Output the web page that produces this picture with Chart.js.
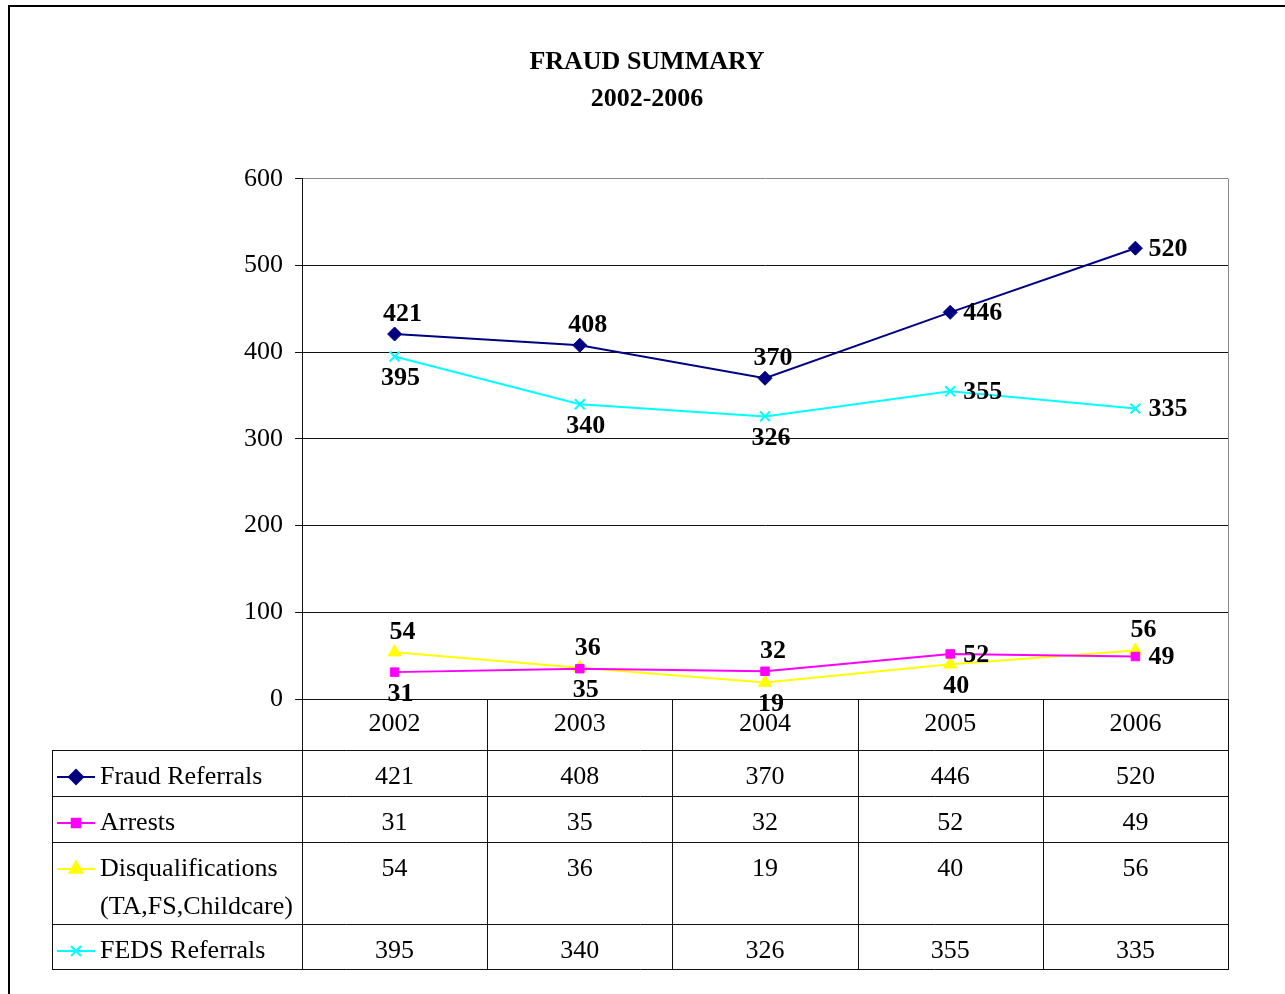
<!DOCTYPE html>
<html>
<head>
<meta charset="utf-8">
<script src="https://cdn.jsdelivr.net/npm/chart.js@4.4.1/dist/chart.umd.min.js"></script>
<style>
  html, body { margin: 0; padding: 0; background: #fff; }
  canvas { display: block; }
</style>
</head>
<body>
<canvas id="fraudChart" width="1285" height="994"></canvas>
<script>
// data
const years = ['2002', '2003', '2004', '2005', '2006'];
const fraudReferrals = [421, 408, 370, 446, 520];
const arrests = [31, 35, 32, 52, 49];
const disqualifications = [54, 36, 19, 40, 56];
const fedsReferrals = [395, 340, 326, 355, 335];
const yTicks = [0, 100, 200, 300, 400, 500, 600];

// where Excel put each value label
const fraudLabelPos = ['above', 'above', 'above', 'right', 'right'];
const arrestsLabelPos = ['below', 'below', 'above', 'right', 'right'];
const disqLabelPos = ['above', 'above', 'below', 'below', 'above'];
const fedsLabelPos = ['below', 'below', 'below', 'right', 'right'];

const FONT = '"Liberation Serif", "Times New Roman", serif';

// names in the data table (can be two lines)
const tableNames = [
    ['Fraud Referrals'],
    ['Arrests'],
    ['Disqualifications', '(TA,FS,Childcare)'],
    ['FEDS Referrals']
];

// value labels next to the points
const valueLabels = {
    id: 'valueLabels',
    afterDatasetsDraw(chart) {
        const ctx = chart.ctx;
        ctx.save();
        ctx.font = 'bold 26px ' + FONT;
        ctx.fillStyle = '#000';
        ctx.textBaseline = 'middle';
        chart.data.datasets.forEach((ds, di) => {
            const meta = chart.getDatasetMeta(di);
            meta.data.forEach((pt, i) => {
                const pos = ds.labelPos[i];
                const txt = String(ds.data[i]);
                if (pos === 'above') {
                    ctx.textAlign = 'center';
                    ctx.fillText(txt, pt.x + 8, pt.y - 20);
                } else if (pos === 'below') {
                    ctx.textAlign = 'center';
                    ctx.fillText(txt, pt.x + 6, pt.y + 22);
                } else {
                    ctx.textAlign = 'left';
                    ctx.fillText(txt, pt.x + 13, pt.y + 1);
                }
            });
        });
        ctx.restore();
    }
};

// data table under the plot + frame of the page
const dataTable = {
    id: 'dataTable',
    afterDraw(chart) {
        const ctx = chart.ctx;
        const area = chart.chartArea;
        const xs = chart.scales.x;
        const colW = xs.width / years.length;
        const tableLeft = 52;
        const rowH = [51, 46, 46, 82, 45];

        ctx.save();
        // plot border right side
        ctx.strokeStyle = '#8a8a8a';
        ctx.lineWidth = 1;
        ctx.beginPath();
        ctx.moveTo(area.right + 0.5, area.top);
        ctx.lineTo(area.right + 0.5, area.bottom);
        ctx.stroke();

        let y = area.bottom;
        const rowTops = [];
        rowH.forEach(h => { rowTops.push(y); y += h; });
        const tableBottom = y;

        ctx.strokeStyle = '#111';
        ctx.beginPath();
        // horizontal row lines
        for (let r = 1; r <= rowH.length; r++) {
            const yy = Math.round(r < rowH.length ? rowTops[r] : tableBottom) + 0.5;
            ctx.moveTo(tableLeft, yy);
            ctx.lineTo(area.right + 1, yy);
        }
        // left edge of table
        ctx.moveTo(tableLeft + 0.5, rowTops[1]);
        ctx.lineTo(tableLeft + 0.5, tableBottom);
        // column lines
        for (let c = 0; c <= years.length; c++) {
            const xx = Math.round(area.left + c * colW) + 0.5;
            ctx.moveTo(xx, area.bottom);
            ctx.lineTo(xx, tableBottom);
        }
        ctx.stroke();

        ctx.font = '26px ' + FONT;
        ctx.fillStyle = '#000';
        ctx.textBaseline = 'middle';
        ctx.textAlign = 'center';
        years.forEach((yr, i) => {
            ctx.fillText(yr, xs.getPixelForValue(i), rowTops[0] + 25);
        });

        chart.data.datasets.forEach((ds, di) => {
            const top = rowTops[di + 1];
            const ty = top + 27;
            // legend key
            ctx.strokeStyle = ds.borderColor;
            ctx.lineWidth = 2;
            ctx.beginPath();
            ctx.moveTo(57, ty);
            ctx.lineTo(95, ty);
            ctx.stroke();
            ctx.fillStyle = ds.pointBackgroundColor;
            ctx.strokeStyle = ds.borderColor;
            Chart.helpers.drawPoint(ctx, {
                pointStyle: ds.pointStyle,
                radius: ds.pointRadius,
                rotation: 0,
                borderWidth: ds.pointStyle === 'crossRot' ? 2 : 1
            }, 76, ty);

            ctx.fillStyle = '#000';
            ctx.textAlign = 'left';
            tableNames[di].forEach((line, li) => {
                ctx.fillText(line, 100, ty + li * 38);
            });
            ctx.textAlign = 'center';
            ds.data.forEach((v, i) => {
                ctx.fillText(String(v), xs.getPixelForValue(i), ty);
            });
        });

        // page frame
        ctx.strokeStyle = '#000';
        ctx.lineWidth = 2;
        ctx.beginPath();
        ctx.moveTo(1285, 6);
        ctx.lineTo(9, 6);
        ctx.lineTo(9, 994);
        ctx.stroke();
        ctx.restore();
    }
};

function series(label, data, color, style, radius, labelPos) {
    return {
        label: label,
        data: data,
        borderColor: color,
        backgroundColor: color,
        pointBackgroundColor: color,
        pointBorderColor: color,
        pointStyle: style,
        pointRadius: radius,
        pointBorderWidth: style === 'crossRot' ? 2 : 1,
        borderWidth: 2,
        tension: 0,
        labelPos: labelPos
    };
}

const config = {
    type: 'line',
    data: {
        labels: years,
        datasets: [
            series('Fraud Referrals', fraudReferrals, '#000080', 'rectRot', 7, fraudLabelPos),
            series('Arrests', arrests, '#ff00ff', 'rect', 6, arrestsLabelPos),
            series('Disqualifications (TA,FS,Childcare)', disqualifications, '#ffff00', 'triangle', 7.5, disqLabelPos),
            series('FEDS Referrals', fedsReferrals, '#00ffff', 'crossRot', 7, fedsLabelPos)
        ]
    },
    options: {
        responsive: false,
        animation: false,
        devicePixelRatio: 1,
        layout: {
            padding: { top: 30, right: 57, bottom: 295, left: 66 }
        },
        plugins: {
            legend: { display: false },
            tooltip: { enabled: false },
            title: {
                display: true,
                text: ['FRAUD SUMMARY', '2002-2006'],
                color: '#000',
                font: { family: FONT, size: 26, weight: 'bold', lineHeight: 1.42 },
                padding: { top: 14, bottom: 61 }
            }
        },
        scales: {
            x: {
                type: 'category',
                display: false,
                offset: true
            },
            y: {
                min: 0,
                max: 600,
                afterFit(scale) { scale.width = 236; },
                afterBuildTicks(scale) { scale.ticks = yTicks.map(v => ({ value: v })); },
                ticks: {
                    color: '#000',
                    font: { family: FONT, size: 26 },
                    padding: 12
                },
                grid: {
                    color: c => (c.tick && c.tick.value === 600) ? '#8a8a8a' : '#111',
                    lineWidth: 1,
                    tickLength: 7,
                    tickColor: '#111'
                },
                border: { display: true, color: '#111', width: 1 }
            }
        }
    },
    plugins: [valueLabels, dataTable]
};

new Chart(document.getElementById('fraudChart').getContext('2d'), config);
</script>
</body>
</html>
